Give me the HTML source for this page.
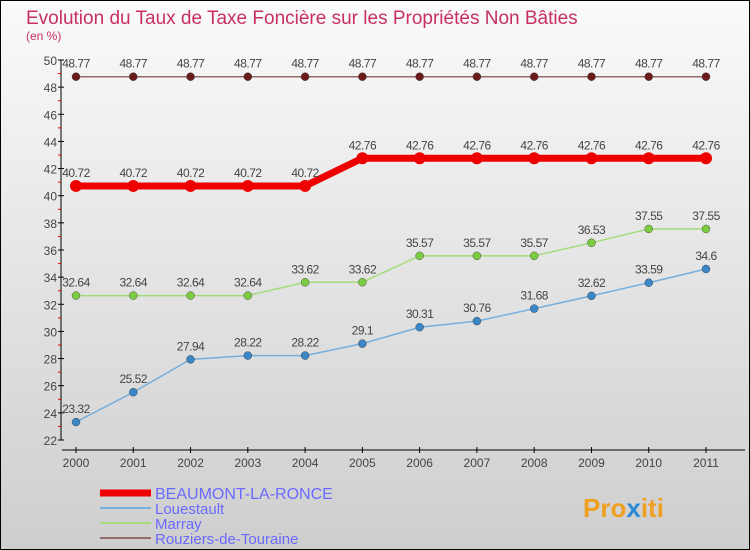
<!DOCTYPE html>
<html><head><meta charset="utf-8"><style>
body{margin:0}
#c{width:750px;height:550px;position:relative;overflow:hidden}
</style></head><body>
<div id="c">
<svg id="s" width="750" height="550" xmlns="http://www.w3.org/2000/svg" font-family="Liberation Sans, sans-serif">
<defs><linearGradient id="bg" x1="0" y1="0" x2="0" y2="1"><stop offset="0" stop-color="#fafafa"/><stop offset="1" stop-color="#cecece"/></linearGradient></defs>
<rect x="0.5" y="0.5" width="749" height="549" fill="url(#bg)" stroke="#000"/>
<text x="26" y="24" font-size="19" fill="#c8305f">Evolution du Taux de Taxe Foncière sur les Propriétés Non Bâties</text>
<text x="26" y="40" font-size="12" fill="#c8305f">(en %)</text>
<g id="axes"></g>
<g id="series"></g>
<g id="legend"></g>
<text x="583" y="517" font-size="26" font-weight="bold" fill="#f0a020">Pro<tspan fill="#2a8ad8">x</tspan>iti</text>
</svg>
</div>
<script>
const years=["2000","2001","2002","2003","2004","2005","2006","2007","2008","2009","2010","2011"];
const yTicks=[22,24,26,28,30,32,34,36,38,40,42,44,46,48,50];
const beaumont=[40.72,40.72,40.72,40.72,40.72,42.76,42.76,42.76,42.76,42.76,42.76,42.76];
const louestault=[23.32,25.52,27.94,28.22,28.22,29.1,30.31,30.76,31.68,32.62,33.59,34.6];
const marray=[32.64,32.64,32.64,32.64,33.62,33.62,35.57,35.57,35.57,36.53,37.55,37.55];
const rouziers=[48.77,48.77,48.77,48.77,48.77,48.77,48.77,48.77,48.77,48.77,48.77,48.77];
const names=["BEAUMONT-LA-RONCE","Louestault","Marray","Rouziers-de-Touraine"];
const NS="http://www.w3.org/2000/svg";
const X=i=>76+i*(630/11);
const Y=v=>440-(v-22)*(380/28);
function mk(t,a,p){const e=document.createElementNS(NS,t);for(const k in a)e.setAttribute(k,a[k]);p.appendChild(e);return e;}
const ax=document.getElementById('axes');
let l=mk('line',{x1:61,y1:60,x2:61,y2:440,stroke:'#000'},ax);


l=mk('line',{x1:62,y1:450,x2:745,y2:450,stroke:'#000'},ax);


yTicks.forEach((v,i)=>{
  mk('line',{x1:58,x2:64,y1:Y(v),y2:Y(v),stroke:'#000'},ax);
  if(i<yTicks.length-1)mk('line',{x1:58,x2:61,y1:Y(v+1),y2:Y(v+1),stroke:'#e00'},ax);
  const t=mk('text',{x:57,y:Y(v)+5,'text-anchor':'end','font-size':12,fill:'#444'},ax);
  
  
  t.textContent=v;
});
years.forEach((y,i)=>{
  mk('line',{x1:X(i),x2:X(i),y1:447,y2:453,stroke:'#000'},ax);
  const t=mk('text',{x:X(i),y:467,'text-anchor':'middle','font-size':12,fill:'#444'},ax);
  
  
  t.textContent=y;
});
const sg=document.getElementById('series');
const defs=[[louestault,'#76aedc','#3a86c6',1.5,4,'louestault'],[marray,'#a4dc7a','#7ccc42',1.5,4,'marray'],[rouziers,'#946a6a','#6a1c1c',1.5,4,'rouziers'],[beaumont,'#ee0000','#ee0000',7,6,'beaumont']];
defs.forEach(([d,lc,pc,w,r,n])=>{
  const p=mk('polyline',{points:d.map((v,i)=>X(i)+','+Y(v)).join(' '),fill:'none',stroke:lc,'stroke-width':w},sg);
  
  
  d.forEach((v,i)=>{
    const c=mk('circle',{cx:X(i),cy:Y(v),r:r,fill:pc,stroke:n=='beaumont'?'none':'#333','stroke-width':0.4},sg);
    
    
    const t=mk('text',{x:X(i),y:Y(v)-9,'text-anchor':'middle','font-size':12,fill:'#444','letter-spacing':'-0.5'},sg);
    
    
    t.textContent=v;
  });
});
const lg=document.getElementById('legend');
const lcol=['#ee0000','#76aedc','#a4dc7a','#946a6a'],lw=[7,2,2,2];
names.forEach((n,i)=>{
  const y=493+i*15;
  const ln=mk('line',{x1:100,x2:151,y1:y,y2:y,stroke:lcol[i],'stroke-width':lw[i]},lg);
  
  
  const t=mk('text',{x:155,y:y+6,'font-size':i==0?16:15,fill:'#6a6aff'},lg);
  
  
  t.textContent=n;
});
</script>
</body></html>
